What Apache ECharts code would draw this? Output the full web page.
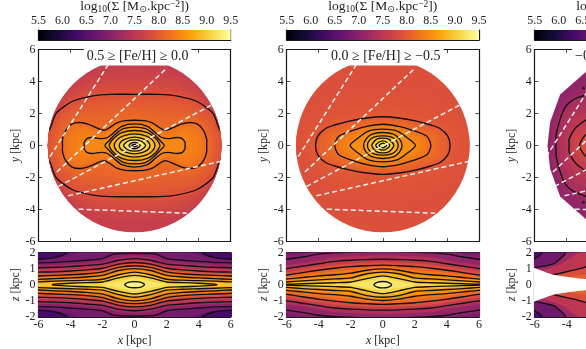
<!DOCTYPE html>
<html>
<head>
<meta charset="utf-8">
<script src="https://cdn.jsdelivr.net/npm/echarts@6/dist/echarts.min.js"></script>
<style>
  html, body { margin: 0; padding: 0; background: #fff; overflow: hidden; }
  #chart { width: 586px; height: 349px; filter: blur(0.4px); }
</style>
</head>
<body>
<div id="chart"></div>
<script>
// colour scale (inferno) and its ticks
const cbarStops = ['#000004','#160b39','#420a68','#6a176e','#932667','#bc3754','#dd513a','#f37819','#fca50a','#f6d746','#fcffa4'];
const cbarMin = 5.5, cbarMax = 9.5;

const panelTitles = ['0.5 ≥ [Fe/H] ≥ 0.0', '0.0 ≥ [Fe/H] ≥ −0.5', '−0.5 ≥ [Fe/H] ≥ −1.0'];

// dashed fan of lines, same on all three maps, kpc
const fanLines = [
  [[-5.28, -0.69], [-1.66, 5.04]],
  [[-4.86, -1.66], [2.01, 4.84]],
  [[-4.76, -2.56], [4.82, 2.54]],
  [[-4.14, -3.14], [5.34, -1.0]],
  [[-3.5, -3.98], [3.26, -4.23]]
];

// All curves are one quadrant [x, y], mirrored when drawn.
// "contours" get a black line, "shades" are only the colour steps between them.

// ---- panel 1, x-y
const map1ShadeLevels = [7.62, 7.67, 7.72, 7.77, 7.82, 7.87, 7.97, 8.02, 8.07, 8.12, 8.17, 8.28, 8.33, 8.39];
const map1Shades = [
  [[0, 7], [7, 7], [7, 0]],
  [[0, 4.75], [2.5, 4.45], [4, 3.6], [5, 2.2], [5.9, 0]],
  [[0, 4.4], [2.5, 4.15], [4, 3.35], [5.1, 1.9], [5.9, 0]],
  [[0, 4.05], [2.5, 3.85], [4.1, 3.05], [5.2, 1.6], [5.9, 0]],
  [[0, 3.75], [2.5, 3.6], [4.2, 2.8], [5.25, 1.35], [5.9, 0]],
  [[0, 3.45], [2.5, 3.35], [4.1, 2.72], [5.25, 1.15], [5.9, 0]],
  [[0, 2.95], [2.5, 2.8], [3.9, 2.4], [4.85, 1.55], [5.3, 0]],
  [[0, 2.7], [2.5, 2.55], [3.8, 2.15], [4.75, 1.3], [5.1, 0]],
  [[0, 2.4], [2, 2.2], [3.7, 1.95], [4.65, 1.15], [4.95, 0]],
  [[0, 2.15], [1.5, 1.95], [2.5, 1.8], [3.6, 1.82], [4.55, 1.05], [4.8, 0]],
  [[0, 1.85], [1.2, 1.65], [2, 1.35], [3.5, 1.62], [4.4, 1], [4.65, 0]],
  [[0, 1.48], [1.2, 1.28], [1.9, 0.8], [3.3, 1.2], [4.1, 0.8], [4.25, 0]],
  [[0, 1.44], [1.2, 1.2], [2, 0.65], [3.2, 1], [3.9, 0.6], [4, 0]],
  [[0, 1.4], [1.2, 1.1], [2.1, 0.55], [3.1, 0.72], [3.55, 0.4], [3.6, 0]]
];
const map1ContourLevels = [7.92, 8.22, 8.45, 8.6, 8.75, 8.9, 9.05, 9.2, 9.32, 9.42];
const map1Contours = [
  [[0, 3.2], [1.5, 3.2], [2.6, 3.1], [3.9, 2.75], [4.9, 2.0], [5.3, 1.0], [5.9, 0]],
  [[0, 1.58], [0.6, 1.55], [1.1, 1.42], [1.5, 1.15], [1.9, 0.95], [2.4, 1.12], [2.9, 1.33], [3.4, 1.44], [3.9, 1.35], [4.3, 0.95], [4.5, 0.4], [4.5, 0]],
  [[0, 1.35], [0.8, 1.2], [1.3, 0.8], [1.7, 0.5], [2.1, 0.43], [2.6, 0.5], [2.95, 0.45], [3.15, 0.2], [3.15, 0]],
  [[0, 1.15], [0.7, 1.05], [1.2, 0.7], [1.6, 0.3], [1.85, 0]],
  [[0, 0.94], [0.8, 0.8], [1.3, 0.45], [1.58, 0]],
  [[0, 0.73], [0.7, 0.6], [1.1, 0.35], [1.27, 0]],
  [[0, 0.52], [0.55, 0.42], [0.85, 0.24], [0.96, 0]],
  [[0, 0.35], [0.4, 0.28], [0.69, 0]],
  [[0, 0.2], [0.2, 0.15], [0.35, 0]],
  [[0, 0.08], [0.18, 0]]
];

// ---- panel 2, x-y
const map2ShadeLevels = [7.88, 7.9, 7.92, 7.94, 7.97, 8.06, 8.12, 8.18, 8.31, 8.37, 8.44];
const map2Shades = [
  [[0, 7], [7, 7], [7, 0]],
  [[0, 3.6], [2.5, 3.3], [4.3, 2.2], [5.2, 1], [5.6, 0]],
  [[0, 3.0], [2.5, 2.7], [4, 1.9], [4.95, 0.9], [5.25, 0]],
  [[0, 2.5], [2.5, 2.2], [3.9, 1.5], [4.6, 0.8], [4.85, 0]],
  [[0, 2.1], [2.3, 1.85], [3.7, 1.3], [4.35, 0.7], [4.5, 0]],
  [[0, 1.68], [2, 1.42], [3, 1.12], [3.8, 0.7], [3.95, 0]],
  [[0, 1.58], [1.5, 1.42], [2.6, 1.1], [3.45, 0.75], [3.6, 0]],
  [[0, 1.45], [1.5, 1.28], [2.5, 0.9], [3.2, 0.6], [3.3, 0]],
  [[0, 1.25], [1, 1.12], [1.8, 0.85], [2.5, 0.5], [2.75, 0]],
  [[0, 1.18], [1, 1.05], [1.8, 0.72], [2.4, 0.35], [2.5, 0]],
  [[0, 1.1], [0.9, 0.97], [1.65, 0.6], [2.25, 0]]
];
const map2ContourLevels = [8.0, 8.25, 8.5, 8.7, 8.85, 9.0, 9.2, 9.35];
const map2Contours = [
  [[0, 1.8], [1, 1.72], [2.1, 1.52], [3, 1.28], [3.55, 1.08], [4.05, 0.6], [4.2, 0]],
  [[0, 1.33], [1, 1.2], [1.85, 0.95], [2.75, 0.58], [3, 0]],
  [[0, 1.02], [0.9, 0.9], [1.5, 0.5], [2.04, 0]],
  [[0, 0.81], [0.7, 0.7], [1.05, 0.4], [1.2, 0]],
  [[0, 0.6], [0.55, 0.52], [0.85, 0.3], [0.96, 0]],
  [[0, 0.46], [0.4, 0.38], [0.69, 0]],
  [[0, 0.29], [0.25, 0.2], [0.44, 0]],
  [[0, 0.15], [0.23, 0]]
];

// ---- panel 3, x-y
const map3ShadeLevels = [7.08, 7.14, 7.2, 7.4, 7.5, 7.7];
const map3Shades = [
  [[0, 7], [7, 7], [7, 0]],
  [[0, 4.8], [2.79, 3.8], [4.0, 3.0], [4.9, 1.3], [5.0, 0]],
  [[0, 4.5], [2.79, 3.5], [3.85, 2.85], [4.8, 1.2], [4.85, 0]],
  [[0, 3.6], [2.79, 2.65], [3.8, 2.1], [4.4, 0.7], [4.4, 0]],
  [[0, 3.2], [2.79, 2.1], [3.6, 1.6], [4.1, 0.5], [4.1, 0]],
  [[0, 2.1], [1.5, 1.8], [2.79, 1.1], [3.5, 0.4], [3.55, 0]]
];
const map3ContourLevels = [7.3, 7.6, 7.85];
const map3Contours = [
  [[0, 4.2], [1.5, 3.8], [2.79, 3.18], [3.58, 2.87], [4.15, 2.3], [4.65, 0.75], [4.67, 0]],
  [[0, 2.9], [1.5, 2.4], [2.79, 1.6], [3.45, 1.1], [3.85, 0.4], [3.85, 0]],
  [[0, 1.4], [1.5, 1.2], [2.79, 0.68], [3.2, 0]]
];
const map3Outline = [[0, 5.4], [2.79, 4.62], [4.41, 3.18], [5.04, 1.46], [5.2, 0]];
const map3Dots = [[-2.96, 3.58], [-2.96, -3.54]];

// ---- panel 1, x-z
const strip1ShadeLevels = [6.35, 6.82, 7.2, 7.6, 8.0, 8.35, 8.65, 8.95, 9.25];
const strip1Shades = [
  [[0, 3], [7, 3], [7, 0]],
  [[0, 2.3], [2.5, 2.3], [3.5, 2.0], [4.5, 1.7], [5.5, 1.55], [7, 1.45], [7, 0]],
  [[0, 1.78], [1, 1.7], [2, 1.45], [3, 1.36], [4, 1.28], [5, 1.23], [6, 1.2], [7, 1.15], [7, 0]],
  [[0, 1.5], [1, 1.4], [2, 1.15], [3, 1.06], [4, 0.98], [5, 0.94], [6, 0.92], [7, 0.88], [7, 0]],
  [[0, 1.28], [1, 1.18], [2, 0.91], [3, 0.8], [4, 0.73], [5, 0.69], [6, 0.66], [7, 0.62], [7, 0]],
  [[0, 1.09], [1, 0.98], [2, 0.69], [3, 0.58], [4, 0.52], [5, 0.48], [6, 0.44], [7, 0.4], [7, 0]],
  [[0, 0.89], [1, 0.75], [2, 0.46], [3, 0.38], [4, 0.33], [5, 0.3], [6, 0.25], [7, 0.23], [7, 0]],
  [[0, 0.68], [1, 0.52], [2, 0.25], [3, 0.2], [4, 0.17], [5, 0.12], [6, 0.09], [7, 0.08], [7, 0]],
  [[0, 0.4], [0.8, 0.25], [1.5, 0.1], [2, 0]]
];
const strip1ContourLevels = [6.65, 7.0, 7.4, 7.8, 8.2, 8.5, 8.8, 9.1, 9.38];
const strip1Contours = [
  [[0, 2.6], [3, 2.6], [4.0, 2.2], [4.25, 1.95], [5, 1.68], [6, 1.58], [7, 1.55], [7, 0]],
  [[0, 1.95], [1.3, 1.9], [2, 1.62], [3, 1.52], [4, 1.45], [5, 1.38], [6, 1.36], [7, 1.3], [7, 0]],
  [[0, 1.62], [1, 1.52], [2, 1.28], [3, 1.2], [4, 1.12], [5, 1.08], [6, 1.05], [7, 1.0], [7, 0]],
  [[0, 1.38], [1, 1.28], [2, 1.02], [3, 0.92], [4, 0.85], [5, 0.8], [6, 0.78], [7, 0.75], [7, 0]],
  [[0, 1.18], [1, 1.08], [2, 0.8], [3, 0.68], [4, 0.62], [5, 0.58], [6, 0.54], [7, 0.5], [7, 0]],
  [[0, 1.0], [1, 0.88], [2, 0.58], [3, 0.48], [4, 0.42], [5, 0.38], [6, 0.33], [7, 0.3], [7, 0]],
  [[0, 0.78], [1, 0.62], [2, 0.34], [3, 0.28], [4, 0.25], [5, 0.22], [6, 0.18], [7, 0.16], [7, 0]],
  [[0, 0.58], [1, 0.42], [2, 0.17], [3, 0.13], [4, 0.09], [5, 0.03], [5.15, 0]],
  [[0, 0.19], [0.4, 0.15], [0.62, 0]]
];

// ---- panel 2, x-z
const strip2ShadeLevels = [6.85, 6.98, 7.35, 7.85, 8.28, 8.6, 8.93, 9.25];
const strip2Shades = [
  [[0, 3], [7, 3], [7, 0]],
  [[0, 2.3], [3, 2.3], [5, 1.95], [6, 1.8], [7, 1.7], [7, 0]],
  [[0, 1.83], [1, 1.8], [2, 1.76], [3, 1.7], [4, 1.52], [5, 1.36], [6, 1.22], [7, 1.1], [7, 0]],
  [[0, 1.4], [1, 1.37], [2, 1.32], [3, 1.24], [4, 1.1], [5, 0.95], [6, 0.8], [7, 0.7], [7, 0]],
  [[0, 1.1], [1, 1.04], [2, 0.92], [3, 0.82], [4, 0.72], [5, 0.6], [6, 0.47], [7, 0.4], [7, 0]],
  [[0, 0.88], [1, 0.79], [2, 0.57], [3, 0.49], [4, 0.42], [5, 0.34], [6, 0.26], [7, 0.21], [7, 0]],
  [[0, 0.66], [1, 0.53], [2, 0.3], [3, 0.24], [4, 0.2], [5, 0.15], [6, 0.1], [7, 0.06], [7, 0]],
  [[0, 0.38], [0.8, 0.24], [1.5, 0.1], [2, 0]]
];
const strip2ContourLevels = [7.1, 7.6, 8.1, 8.45, 8.75, 9.1, 9.38];
const strip2Contours = [
  [[0, 2.1], [2, 2.02], [3, 1.98], [4, 1.9], [5, 1.72], [6, 1.58], [7, 1.45], [7, 0]],
  [[0, 1.58], [1, 1.56], [2, 1.52], [3, 1.45], [4, 1.3], [5, 1.15], [6, 1.0], [7, 0.9], [7, 0]],
  [[0, 1.22], [1, 1.18], [2, 1.12], [3, 1.02], [4, 0.9], [5, 0.75], [6, 0.6], [7, 0.5], [7, 0]],
  [[0, 0.98], [1, 0.9], [2, 0.72], [3, 0.62], [4, 0.55], [5, 0.45], [6, 0.35], [7, 0.3], [7, 0]],
  [[0, 0.78], [1, 0.68], [2, 0.42], [3, 0.36], [4, 0.3], [5, 0.24], [6, 0.17], [7, 0.12], [7, 0]],
  [[0, 0.55], [1, 0.38], [2, 0.17], [3, 0.12], [4, 0.09], [5, 0.06], [6, 0.03], [6.4, 0]],
  [[0, 0.2], [0.35, 0.15], [0.55, 0]]
];

// ---- panel 3, x-z
const strip3ShadeLevels = [6.4, 7.5, 8.05];
const strip3Shades = [
  [[0, 3], [7, 3], [7, 0]],
  [[0, 3], [3, 2.2], [3.4, 1.9], [4.3, 1.3], [5.3, 0.95], [6.5, 0.6], [6.5, 0]],
  [[0, 1], [2.5, 0.7], [4, 0.45], [5.3, 0.3], [6.5, 0]]
];
const strip3ContourLevels = [6.75, 7.2, 7.85];
const strip3Contours = [
  [[0, 3], [5.3, 3], [5.56, 1.94], [6, 1.62], [6.5, 1.3], [6.5, 0]],
  [[0, 3], [4, 3], [4.1, 1.94], [4.4, 1.62], [4.83, 1.3], [6, 1.04], [6.5, 0.9], [6.5, 0]],
  [[0, 3], [2.2, 1.25], [2.79, 1.1], [3.58, 0.9], [4.83, 0.62], [5.3, 0.5], [6.5, 0]]
];
const strip3Hole = [[0, 0.28], [2.79, 0.35], [4.83, 0.62], [6, 1.04], [6.6, 1.3], [6.6, 0]];

const panels = [
  { left: 38.5,
    map: [map1ShadeLevels, map1Shades, map1ContourLevels, map1Contours],
    strip: [strip1ShadeLevels, strip1Shades, strip1ContourLevels, strip1Contours] },
  { left: 286.7,
    map: [map2ShadeLevels, map2Shades, map2ContourLevels, map2Contours],
    strip: [strip2ShadeLevels, strip2Shades, strip2ContourLevels, strip2Contours] },
  { left: 534.7, outline: map3Outline,
    map: [map3ShadeLevels, map3Shades, map3ContourLevels, map3Contours],
    strip: [strip3ShadeLevels, strip3Shades, strip3ContourLevels, strip3Contours], hole: strip3Hole }
];

const FONT = '"Liberation Serif", "DejaVu Serif", serif';
const INK = '#222';
const PANEL_W = 192.2;

function infernoAt(v) {
  return echarts.color.lerp((v - cbarMin) / (cbarMax - cbarMin), cbarStops);
}

function mirror(q) {
  const right = q.concat(q.slice(0, -1).reverse().map(([x, y]) => [x, -y]));
  const left = right.slice(1, -1).reverse().map(([x, y]) => [-x, y]);
  return right.concat(left);
}

const grids = [], xAxes = [], yAxes = [], series = [], titles = [];

// one grid, framed with four axis lines and inward ticks
function addFrame(box, xRange, xStep, yRange, yStep, o) {
  const gridIndex = grids.length;
  grids.push(Object.assign({ outerBoundsMode: 'none', containLabel: false }, box));
  const line = { show: true, onZero: false, lineStyle: { color: '#1a1a1a', width: 1.2 } };
  const tick = { show: true, inside: true, length: 3.5, lineStyle: { color: '#1a1a1a', width: 0.8 } };
  const labelStyle = { fontFamily: FONT, fontSize: 12, color: INK };
  const nameStyle = { fontFamily: FONT, fontSize: 12, color: INK, rich: { i: { fontFamily: FONT, fontSize: 12, fontStyle: 'italic', color: INK } } };
  const xi = xAxes.length, yi = yAxes.length;
  [o.xSide || 'bottom', o.xSide === 'top' ? 'bottom' : 'top'].forEach((position, k) => {
    xAxes.push({
      gridIndex, position, type: 'value', min: xRange[0], max: xRange[1], interval: xStep,
      splitLine: { show: false }, axisLine: line, axisTick: tick,
      axisLabel: Object.assign({ show: k === 0 && !!o.xLabels, margin: o.xMargin || 3, showMinLabel: true, showMaxLabel: true,
        formatter: o.xFormat || (v => String(v)) }, labelStyle),
      name: k === 0 && o.xName ? '{i|x} [kpc]' : '', nameLocation: 'middle', nameGap: 18,
      nameTextStyle: nameStyle
    });
  });
  ['left', 'right'].forEach((position, k) => {
    yAxes.push({
      gridIndex, position, type: 'value', min: yRange[0], max: yRange[1], interval: yStep,
      splitLine: { show: false }, axisLine: line, axisTick: Object.assign({}, tick, { show: o.yTicks !== false }),
      axisLabel: Object.assign({ show: k === 0 && !!o.yLabels, margin: 3, showMinLabel: true, showMaxLabel: true, formatter: v => String(v) }, labelStyle),
      name: k === 0 && o.yName ? '{i|' + o.yName + '} [kpc]' : '', nameLocation: 'middle', nameGap: 12, nameRotate: 90,
      nameTextStyle: nameStyle
    });
  });
  return { xAxisIndex: xi, yAxisIndex: yi };
}

function clipFor(api, kind, outline) {
  if (kind === 'disc') {
    const c = api.coord([0, 0]);
    return { type: 'circle', shape: { cx: c[0], cy: c[1], r: api.size([5.42, 0])[0] } };
  }
  if (kind === 'outline') {
    return { type: 'polygon', shape: { points: mirror(outline).map(p => api.coord(p)) } };
  }
  return undefined;
}

function addField(ax, spec, clip, outline, hole) {
  const [shadeLevels, shades, contourLevels, contours] = spec;
  const layers = shadeLevels.map((v, i) => ({ v, q: shades[i] }))
    .concat(contourLevels.map((v, i) => ({ v, q: contours[i] })))
    .sort((a, b) => a.v - b.v);
  const isGrid = clip === 'grid';

  series.push(Object.assign({}, ax, {
    type: 'custom', clip: isGrid, silent: true, animation: false, z: 2,
    data: layers.map(l => [l.v]),
    renderItem(params, api) {
      const el = {
        type: 'polygon', z2: params.dataIndex,
        shape: { points: mirror(layers[params.dataIndex].q).map(p => api.coord(p)), smooth: 0.25 },
        style: { fill: infernoAt(layers[params.dataIndex].v), stroke: null }
      };
      const c = clipFor(api, clip, outline);
      if (c) el.clipPath = c;
      return el;
    }
  }));

  series.push(Object.assign({}, ax, {
    type: 'custom', clip: isGrid, silent: true, animation: false, z: 3,
    data: contourLevels.map(v => [v]),
    renderItem(params, api) {
      const el = {
        type: 'polygon',
        shape: { points: mirror(contours[params.dataIndex]).map(p => api.coord(p)), smooth: 0.25 },
        style: { fill: 'none', stroke: '#141014', lineWidth: 1.35 }
      };
      const c = clipFor(api, clip, outline);
      if (c) el.clipPath = c;
      return el;
    }
  }));

  // empty part of the x-z slice, sits over the contour lines
  if (hole) {
    series.push(Object.assign({}, ax, {
      type: 'custom', clip: true, silent: true, animation: false, z: 4,
      data: [[0]],
      renderItem(params, api) {
        return { type: 'polygon', shape: { points: mirror(hole).map(p => api.coord(p)), smooth: 0.2 }, style: { fill: '#fff', stroke: null } };
      }
    }));
  }
}

panels.forEach((p, n) => {
  const centre = p.left + PANEL_W / 2;

  // colour bar
  const cb = addFrame({ left: p.left, top: 30, width: PANEL_W, height: 10 }, [cbarMin, cbarMax], 0.5, [0, 1], 1,
    { xSide: 'top', xLabels: true, xFormat: v => v.toFixed(1), yTicks: false });
  series.push(Object.assign({}, cb, {
    type: 'custom', silent: true, animation: false, z: 2, data: [[cbarMin, cbarMax]],
    renderItem(params, api) {
      const a = api.coord([api.value(0), 1]), b = api.coord([api.value(1), 0]);
      return {
        type: 'rect', shape: { x: a[0], y: a[1], width: b[0] - a[0], height: b[1] - a[1] },
        style: { fill: new echarts.graphic.LinearGradient(0, 0, 1, 0, cbarStops.map((color, i) => ({ offset: i / (cbarStops.length - 1), color }))) }
      };
    }
  }));

  // x-y map
  const map = addFrame({ left: p.left, top: 49.5, width: PANEL_W, height: 192 }, [-6, 6], 2, [-6, 6], 2,
    { yLabels: true, yName: 'y' });
  addField(map, p.map, p.outline ? 'outline' : 'disc', p.outline);
  fanLines.forEach(seg => {
    series.push(Object.assign({}, map, {
      type: 'line', data: seg, symbol: 'none', silent: true, animation: false, z: 5,
      lineStyle: { color: '#fff', width: 1.5, type: [5, 3], opacity: 0.92 }
    }));
  });
  if (p.outline) {
    series.push(Object.assign({}, map, {
      type: 'scatter', data: map3Dots, symbol: 'circle', symbolSize: 3, silent: true, animation: false, z: 5,
      itemStyle: { color: '#141014' }
    }));
  }

  // x-z strip
  const strip = addFrame({ left: p.left, top: 252.5, width: PANEL_W, height: 64.4 }, [-6, 6], 2, [-2, 2], 1,
    { xLabels: true, xName: true, xMargin: 2, yLabels: true, yName: 'z' });
  addField(strip, p.strip, 'grid', null, p.hole);

  // heading over the colour bar
  titles.push({
    text: '{a|log}{s|10}{a|(Σ [M}{s|⊙}{a|.kpc}{u|−2}{a|])}',
    left: centre, top: -1, textAlign: 'center', padding: 0,
    textStyle: {
      fontWeight: 'normal',
      rich: {
        a: { fontFamily: FONT, fontSize: 13.5, fontWeight: 'normal', color: INK, lineHeight: 15 },
        s: { fontFamily: FONT, fontSize: 9.5, fontWeight: 'normal', color: INK, lineHeight: 15, padding: [5, 0, 0, 0] },
        u: { fontFamily: FONT, fontSize: 9.5, fontWeight: 'normal', color: INK, lineHeight: 15, padding: [0, 0, 5, 0] }
      }
    }
  });
  // metallicity label, white box cuts the frame
  titles.push({
    text: panelTitles[n],
    left: centre, top: 47.5, textAlign: 'center', z: 8,
    backgroundColor: '#fff', padding: [1, 3, 2, 3],
    textStyle: { fontFamily: FONT, fontSize: 14, fontWeight: 'normal', color: INK, lineHeight: 15 }
  });
});

const chart = echarts.init(document.getElementById('chart'));
chart.setOption({
  animation: false,
  backgroundColor: '#fff',
  title: titles,
  grid: grids,
  xAxis: xAxes,
  yAxis: yAxes,
  series: series
});
</script>
</body>
</html>
